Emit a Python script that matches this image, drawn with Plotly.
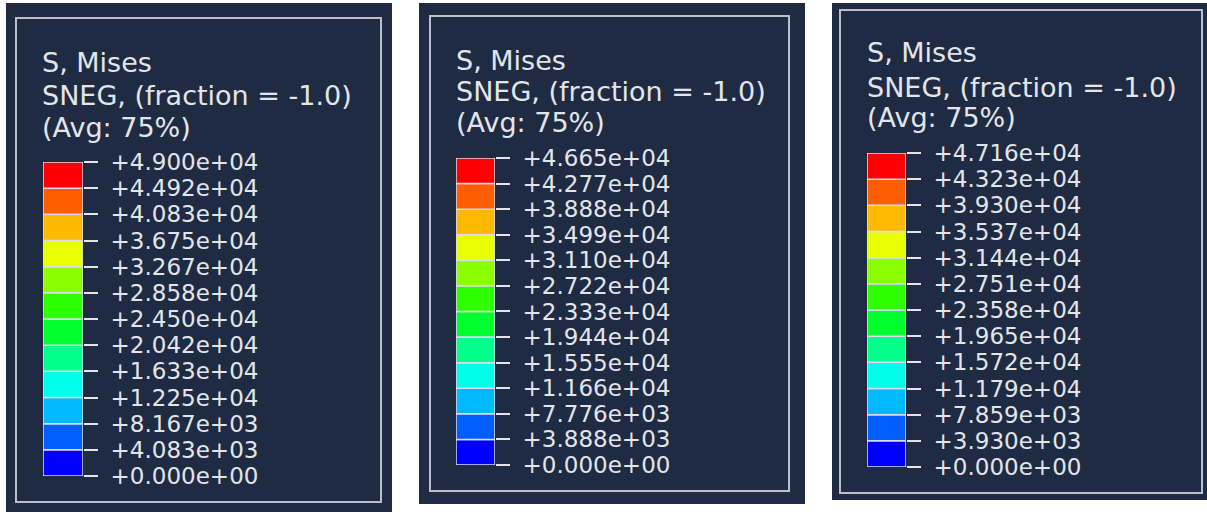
import plotly.graph_objects as go

W, H = 1207, 514

# Contour levels of the three von Mises stress legends
levels_a = [0, 4083, 8167, 12250, 16330, 20420, 24500, 28580, 32670, 36750, 40830, 44920, 49000]
levels_b = [0, 3888, 7776, 11660, 15550, 19440, 23330, 27220, 31100, 34990, 38880, 42770, 46650]
levels_c = [0, 3930, 7859, 11790, 15720, 19650, 23580, 27510, 31440, 35370, 39300, 43230, 47160]

# Abaqus rainbow spectrum, lowest band first
band_colors = ["#0000FF", "#005DFF", "#00B9FF", "#00FFE8", "#00FF8B", "#00FF2E",
               "#2EFF00", "#8BFF00", "#E8FF00", "#FFB900", "#FF5D00", "#FF0000"]

title_lines = ["S, Mises", "SNEG, (fraction = -1.0)", "(Avg: 75%)"]

BG = "#1e2b43"
FRAME = "#b9bfcb"
TEXT = "#e3e5ea"
FONT = "DejaVu Sans"

# pixel geometry of each legend panel: background box, frame, colour bar, title rows
panels = [
    dict(levels=levels_a, bg=(6, 3, 392, 512), frame=(16, 18, 381, 502),
         bar=(43, 162, 83, 476), tx=40, ty=[62, 95, 127]),
    dict(levels=levels_b, bg=(419, 3, 805, 504), frame=(430, 16, 789, 491),
         bar=(456, 158, 495, 465), tx=454, ty=[60, 91, 122]),
    dict(levels=levels_c, bg=(832, 3, 1207, 500), frame=(840, 10, 1202, 493),
         bar=(867, 153, 906, 467), tx=865, ty=[53, 87, 118]),
]


def px(x):
    return x / W


def py(y):
    return 1 - y / H


fig = go.Figure()
shapes = []
annotations = []
layout = {}

for i, p in enumerate(panels, start=1):
    lv = p["levels"]
    xa = "x" if i == 1 else f"x{i}"
    ya = "y" if i == 1 else f"y{i}"
    xkey = "xaxis" if i == 1 else f"xaxis{i}"
    ykey = "yaxis" if i == 1 else f"yaxis{i}"

    fig.add_trace(go.Bar(
        x=[0] * (len(lv) - 1),
        y=[lv[k + 1] - lv[k] for k in range(len(lv) - 1)],
        base=lv[:-1],
        width=1,
        marker=dict(color=band_colors, line=dict(color="#dcdcf2", width=1.5)),
        xaxis=xa, yaxis=ya, showlegend=False, hoverinfo="skip",
    ))

    bx0, by0, bx1, by1 = p["bar"]
    layout[xkey] = dict(domain=[px(bx0), px(bx1)], range=[-0.5, 0.5], visible=False,
                        fixedrange=True, automargin=False)
    layout[ykey] = dict(domain=[py(by1), py(by0)], range=[0, lv[-1]], anchor=xa,
                        side="right", ticks="outside", ticklen=14, tickwidth=1.5,
                        tickcolor=TEXT, tickvals=lv,
                        ticktext=[f"{v:+.3e}" for v in lv],
                        tickfont=dict(family=FONT, size=23, color=TEXT),
                        ticklabelstandoff=8, automargin=False,
                        showgrid=False, zeroline=False, showline=False, fixedrange=True)

    x0, y0, x1, y1 = p["bg"]
    shapes.append(dict(type="rect", xref="paper", yref="paper", layer="below",
                       x0=px(x0), x1=px(x1), y0=py(y1), y1=py(y0),
                       fillcolor=BG, line=dict(width=0)))
    x0, y0, x1, y1 = p["frame"]
    shapes.append(dict(type="rect", xref="paper", yref="paper", layer="below",
                       x0=px(x0), x1=px(x1), y0=py(y1), y1=py(y0),
                       fillcolor="rgba(0,0,0,0)", line=dict(color=FRAME, width=2)))

    for line, yy in zip(title_lines, p["ty"]):
        annotations.append(dict(text=line, xref="paper", yref="paper",
                                x=px(p["tx"]), y=py(yy), xanchor="left", yanchor="middle",
                                showarrow=False,
                                font=dict(family=FONT, size=27, color=TEXT)))

fig.update_layout(
    width=W, height=H,
    margin=dict(l=0, r=0, t=0, b=0, autoexpand=False),
    paper_bgcolor="white", plot_bgcolor="rgba(0,0,0,0)",
    shapes=shapes, annotations=annotations,
    barmode="overlay",
    **layout,
)

fig.write_html("out.html", config={"displayModeBar": False})
